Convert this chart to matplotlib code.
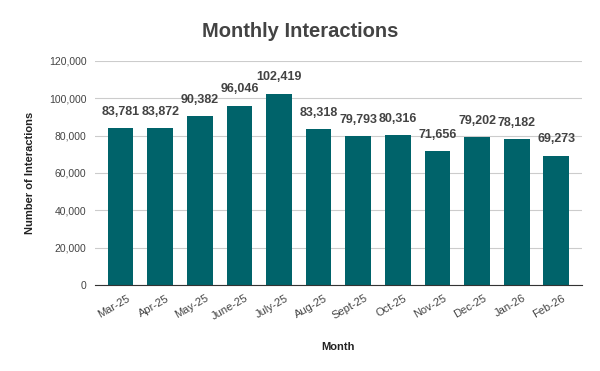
import matplotlib
matplotlib.use("Agg")
from matplotlib import pyplot as plt

months = ["Mar-25", "Apr-25", "May-25", "June-25", "July-25", "Aug-25",
          "Sept-25", "Oct-25", "Nov-25", "Dec-25", "Jan-26", "Feb-26"]
interactions = [83781, 83872, 90382, 96046, 102419, 83318,
                79793, 80316, 71656, 79202, 78182, 69273]
yticks = [0, 20000, 40000, 60000, 80000, 100000, 120000]

plt.rcParams['font.family'] = ['Liberation Sans', 'DejaVu Sans']

fig = plt.figure(figsize=(6, 3.71), dpi=100)
ax = fig.add_axes([0.158, 0.232, 0.812, 0.604])

bar_color = "#00636a"
x = range(len(months))
ax.bar(x, interactions, width=0.65, color=bar_color, zorder=3)

for i, v in enumerate(interactions):
    ax.text(i, v + 5500, f"{v:,}", ha="center", va="bottom",
            fontsize=9, fontweight="bold", color="#434343")

ax.set_ylim(0, 120000)
ax.set_xlim(-0.65, len(months) - 0.35)
ax.set_yticks(yticks)
ax.set_yticklabels([f"{t:,}" for t in yticks], fontsize=7.5, color="#444444")
ax.set_xticks([i + 0.15 for i in x])
ax.set_xticklabels(months, rotation=30, ha="right", rotation_mode="anchor",
                   fontsize=8, color="#444444")
ax.tick_params(axis="both", length=0, pad=6)
ax.grid(axis="y", color="#cccccc", linewidth=0.8, zorder=0)
for s in ["top", "right", "left"]:
    ax.spines[s].set_visible(False)
ax.spines["bottom"].set_color("#333333")
ax.spines["bottom"].set_zorder(4)

ax.set_xlabel("Month", fontsize=8, fontweight="bold", color="#222222", labelpad=14)
ax.set_ylabel("Number of Interactions", fontsize=8, fontweight="bold", color="#222222", labelpad=10)
fig.text(0.5, 0.915, "Monthly Interactions", ha="center", va="center",
         fontsize=14.5, fontweight="bold", color="#434343")

fig.savefig("out.png", dpi=100, facecolor="white")
